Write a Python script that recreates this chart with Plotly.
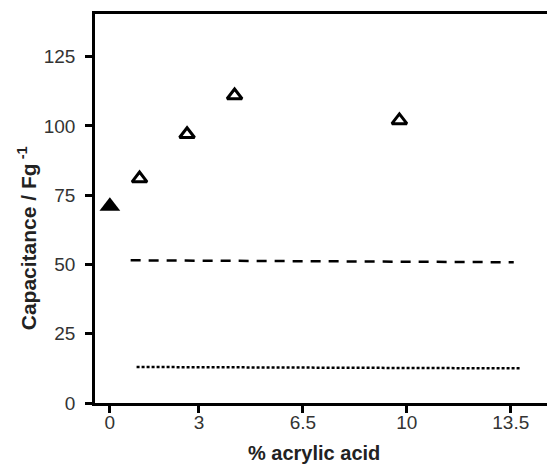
import plotly.graph_objects as go

# Capacitance vs acrylic acid content
filled_x = [0.0]
filled_y = [71]
open_x = [1.0, 2.6, 4.2, 9.75]
open_y = [81, 97, 111, 102]

# Reference levels
dashed_x = [0.7, 13.6]
dashed_y = [51.5, 50.8]
dotted_x = [0.9, 13.8]
dotted_y = [13.0, 12.5]

x_ticks = [0, 3, 6.5, 10, 13.5]
x_tick_labels = ["0", "3", "6.5", "10", "13.5"]
y_ticks = [0, 25, 50, 75, 100, 125]

FONT = "Liberation Sans, Arial, sans-serif"

fig = go.Figure()
fig.add_trace(go.Scatter(x=dashed_x, y=dashed_y, mode="lines",
                         line=dict(color="black", width=2.5, dash="10px,8px")))
fig.add_trace(go.Scatter(x=dotted_x, y=dotted_y, mode="lines",
                         line=dict(color="black", width=2.5, dash="3px,2px")))
fig.add_trace(go.Scatter(x=filled_x, y=filled_y, mode="markers",
                         marker=dict(symbol="triangle-up", size=18, color="black")))
fig.add_trace(go.Scatter(x=open_x, y=open_y, mode="markers",
                         marker=dict(symbol="triangle-up-open", size=13, color="black",
                                     line=dict(width=3, color="black"))))

fig.update_layout(
    width=547, height=466,
    margin=dict(l=95, r=0, t=14, b=63),
    paper_bgcolor="white", plot_bgcolor="white",
    showlegend=False,
    font=dict(family=FONT, size=19, color="#333"),
    xaxis=dict(range=[-0.5, 14.72], tickvals=x_ticks, ticktext=x_tick_labels,
               showgrid=False, zeroline=False, showline=True, linecolor="black",
               linewidth=2.5, mirror=True, ticks="outside", ticklen=7,
               tickwidth=2.5, tickcolor="black", ticklabelstandoff=-7),
    yaxis=dict(range=[0, 140.4], tickvals=y_ticks,
               showgrid=False, zeroline=False, showline=True, linecolor="black",
               linewidth=2.5, ticks="outside", ticklen=7, tickwidth=2.5,
               tickcolor="black", ticklabelstandoff=6),
    annotations=[
        dict(text="<b>Capacitance / Fg<sup> -1</sup></b>", textangle=-90,
             xref="paper", yref="paper", x=-0.150, y=0.424, showarrow=False,
             xanchor="center", yanchor="middle",
             font=dict(family=FONT, size=21, color="#222")),
        dict(text="<b>% acrylic acid</b>", xref="paper", yref="paper",
             x=0.485, y=-0.128, showarrow=False, xanchor="center", yanchor="middle",
             font=dict(family=FONT, size=20, color="#222")),
    ],
)

fig.write_html("out.html")
